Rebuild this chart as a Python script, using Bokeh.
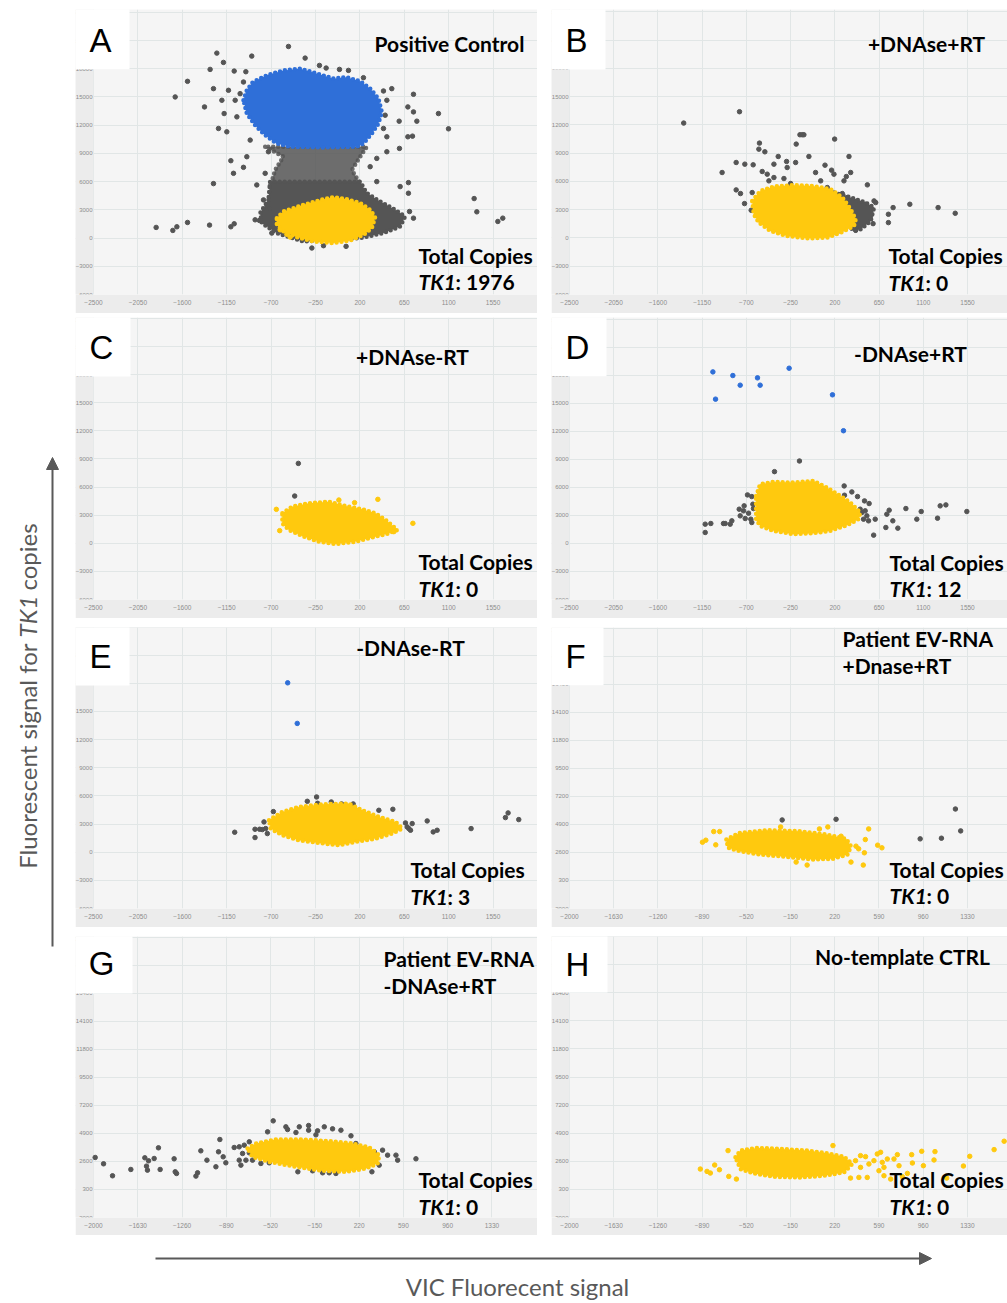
import math
from bokeh.plotting import figure
from bokeh.models import Range1d, FixedTicker, Arrow, NormalHead, Spacer
from bokeh.layouts import row, column
from bokeh.embed import file_html
from bokeh.resources import INLINE
from bokeh.core.properties import value

YELLOW = "#FFC90E"
BLUE = "#2F6FD8"
GREY = "#555555"

# ---------------- tick values ----------------
x_ticks_450 = [-2500, -2050, -1600, -1150, -700, -250, 200, 650, 1100, 1550]
y_ticks_3000 = [-6000, -3000, 0, 3000, 6000, 9000, 12000, 15000, 18000, 21000, 24000]
x_ticks_370 = [-2000, -1630, -1260, -890, -520, -150, 220, 590, 960, 1330]
y_ticks_2300 = [-2000, 300, 2600, 4900, 7200, 9500, 11800, 14100, 16400, 18700, 21000]

# ---------------- Panel A : Positive Control ----------------
a_yel_cloud_x = [-642, -574, -372, -169, -68, 67, 202, 304, 354, 321, 236, 101, -68, -270, -439, -574, -642]
a_yel_cloud_y = [2118, 2824, 3530, 4130, 4342, 4130, 3707, 3000, 2224, 1059, 353, -247, -530, -353, 106, 706, 1412]
a_yel_x = [-608, -507, -540]
a_yel_y = [882, 106, 400]
a_grey_cloud_x = [-727, -811, -794, -642, -372, 202, 439, 608, 658, 557, 405, 270, 202, -710]
a_grey_cloud_y = [4060, 2648, 1589, 530, -353, 0, 530, 1236, 2295, 3001, 3883, 4766, 6000, 6000]
a_grey_upper_x = [-760, -575, -659, -710, -715, 205, 202, 118, 202, 270]
a_grey_upper_y = [9708, 8649, 7237, 5472, 5800, 5800, 5825, 7237, 8649, 9708]
a_blue_cloud_x = [-980, -946, -885, -743, -575, -406, -237, -68, 67, 202, 304, 388, 422, 388, 321, 236, 169, -169, -507, -642, -760, -862, -946]
a_blue_cloud_y = [14650, 15709, 16591, 17297, 17827, 18003, 17500, 16950, 17100, 16662, 15885, 14826, 13414, 12179, 11120, 10060, 9708, 9637, 9708, 10060, 10943, 12002, 13238]
a_grey_x = [-524, -355, -1250, -1183, -896, -1318, -1074, -956, -1547, -1672, -1375, -1284, -1199, -1176,
            -1233, -1149, -1064, -1014, -980, -1047, -1132, -912, -210, -142, -7, 84, 236, 439, 523, 473,
            456, 439, 473, 598, 686, 743, 777, 743, 686, 733, 601, 473, 371, 304, 371, 996, 1098, 1358,
            1385, 1598, 1648, -1865, -1696, -1655, -1547, -1324, -1108, -1074, -1108, -1081, -980, -1284,
            -862, -818, -693, -287, -169, 60, 692, 608, 703, 743, 692, -760, -777, -727, -946, -845, -710]
a_grey_y = [20368, 19133, 19662, 18674, 19344, 17932, 17756, 17685, 16662, 15003, 13944, 15885, 14650, 13238,
            11649, 11296, 14650, 15356, 16591, 12885, 15709, 10414, 18356, 18074, 17932, 17827, 17050, 15638,
            15885, 14650, 13061, 11649, 10767, 12426, 13944, 15285, 12426, 13414, 10767, 10837, 9531, 9178,
            8472, 7590, 6001, 13238, 11614, 4201, 2789, 1765, 2118, 1130, 812, 1200, 1659, 1377, 1200, 1518,
            8225, 6884, 7519, 5789, 1942, 1871, 530, -1059, -812, -883, 4766, 5472, 2824, 2118, 5895, 6884,
            4060, 9178, 8649, 5648, 3177]

# ---------------- Panel B : +DNAse+RT ----------------
b_yel_cloud_x = [-641, -556, -420, -217, -13, 157, 276, 361, 412, 395, 259, 123, -81, -285, -454, -573, -624]
b_yel_cloud_y = [3937, 5001, 5462, 5604, 5498, 5179, 4292, 3050, 1986, 1277, 568, 35, -35, 213, 745, 1632, 2518]
b_grey_cloud_x = [191, 361, 514, 599, 565, 463, 395, 259]
b_grey_cloud_y = [4824, 4292, 3760, 3228, 1809, 922, 745, 2164]
b_grey_x = [-1338, -770, -947, -804, -716, -631, -567, -573, -512, -804, -760, -719, -651, -641, -539, -488,
            -420, -376, -291, -285, -199, -155, -132, -115, -193, -318, -250, -471, -420, -64, 4, 100, 56, 167,
            198, 191, 123, 344, 361, 317, 293, 276, 327, 395, 429, 463, 412, 480, 497, 412, 531, 514, 599, 565,
            589, 616, 745, 745, 793, 963, 1251, 1425, 259]
b_grey_y = [12202, 13408, 6952, 8016, 7839, 7768, 10073, 9435, 9151, 5108, 4718, 3653, 2944, 4824, 7059, 6775,
            7839, 8655, 8123, 7484, 8016, 10960, 10960, 10960, 9967, 6314, 5782, 6065, 6420, 8655, 6952, 7733,
            6065, 7200, 10499, 6775, 5356, 8655, 6952, 6527, 6065, 4718, 4292, 3937, 3582, 3050, 2518, 2164,
            2944, 816, 5640, 3582, 3937, 2341, 1525, 3760, 2518, 1632, 3228, 3582, 3228, 2625, 745]

# ---------------- Panel C : +DNAse-RT ----------------
c_yel_cloud_x = [-586, -485, -316, -114, 55, 224, 359, 460, 578, 494, 359, 156, -46, -215, -384, -519, -586]
c_yel_cloud_y = [3198, 3908, 4264, 4441, 3979, 3624, 3198, 2487, 1421, 1066, 711, 178, -71, 178, 782, 1421, 2132]
c_yel_x = [-647, -613, 737, 382, -13, 146, 544]
c_yel_y = [3624, 1350, 2132, 4690, 4619, 4335, 1244]
c_grey_x = [-424, -461]
c_grey_y = [8527, 5045]

# ---------------- Panel D : -DNAse+RT ----------------
d_yel_cloud_x = [-601, -560, -424, -221, -17, 119, 254, 356, 458, 441, 322, 153, -17, -221, -424, -560, -601]
d_yel_cloud_y = [5089, 6335, 6584, 6513, 6691, 5979, 5089, 4378, 3310, 2598, 1957, 1352, 1103, 997, 1352, 1886, 2598]
d_grey_x = [-414, -160, -689, -645, -773, -729, -763, -712, -678, -628, -634, -655, -645, -723, -848, -865,
            -933, -916, -1062, -1119, -1119, 295, 298, 373, 431, 502, 549, 458, 475, 509, 526, 492, 543, 611,
            595, 719, 729, 753, 790, 841, 923, 1034, 1079, 1245, 1272, 1330, 1543]
d_grey_y = [7687, 8826, 5196, 5018, 3666, 3488, 2954, 2669, 3239, 3737, 4200, 2598, 2242, 4022, 2420, 2064,
            2135, 2135, 2135, 2064, 1174, 6157, 5160, 5516, 5018, 4556, 4271, 3666, 3310, 3488, 2954, 2598,
            2420, 2598, 890, 1708, 3132, 3559, 2420, 1637, 3737, 2598, 3417, 2705, 4022, 4128, 3417]
d_blue_x = [-1041, -838, -763, -587, -560, -265, -1014, 176, 288]
d_blue_y = [18364, 17973, 16941, 17724, 16941, 18756, 15446, 15909, 12065]

# ---------------- Panel E : -DNAse-RT ----------------
e_yel_cloud_x = [-721, -586, -418, -181, 89, 224, 392, 561, 629, 527, 359, 156, -13, -215, -418, -586, -704]
e_yel_cloud_y = [3405, 4292, 4824, 5108, 5179, 4469, 3760, 3228, 2518, 1986, 1454, 1100, 745, 993, 1277, 1809, 2518]
e_grey_x = [-1069, -863, -863, -816, -772, -755, -738, -789, -677, -333, -239, -229, -90, 14, 132, 392, 534,
            662, 696, 730, 679, 713, 882, 943, 983, 1327, 1675, 1702, 1810]
e_grey_y = [2128, 2447, 1561, 2447, 3228, 2518, 1986, 2412, 4327, 5427, 5888, 5214, 5356, 5143, 5143, 4469,
            4576, 3121, 2518, 3050, 2696, 2341, 3334, 2164, 2341, 2518, 3689, 4186, 3476]
e_blue_x = [-532, -435]
e_blue_y = [18054, 13727]

# ---------------- Panel F : Patient EV-RNA +Dnase+RT ----------------
f_yel_cloud_x = [-687, -576, -353, -75, 148, 315, 356, 328, 203, 36, -186, -409, -576, -673]
f_yel_cloud_y = [3662, 4207, 4425, 4343, 4071, 3717, 3118, 2437, 2082, 2028, 2246, 2437, 2709, 2981]
f_yel_x = [-887, -859, -793, -776, -743, -233, 92, 162, 273, 398, 420, 468, 476, 504, 459, 579, 615, -11, -103, 356]
f_yel_y = [3444, 3608, 4316, 3227, 4316, 4697, 4534, 4697, 3935, 3118, 2900, 2573, 3662, 4534, 1565, 3199, 2981, 1565, 1810, 1810]
f_grey_x = [-220, 231, 1230, 935, 1113, 1274]
f_grey_y = [5270, 5324, 6168, 3717, 3771, 4371]

# ---------------- Panel G : Patient EV-RNA -DNAse+RT ----------------
g_yel_cloud_x = [-712, -643, -476, -253, -30, 165, 305, 388, 375, 277, 110, -85, -308, -531, -671]
g_yel_cloud_y = [3666, 4076, 4404, 4404, 4267, 4076, 3748, 3119, 2436, 2026, 1753, 1835, 2163, 2573, 2983]
g_grey_x = [-498, -545, -392, -378, -308, -280, -202, -202, -127, -71, -141, -2, 68, 152, 193, 263, 347, 416,
            458, 528, 542, 388, 327, 695, 26, -30, -85, -169, -292, -531, -601, -671, -726, -768, -782, -754,
            -698, -740, -782, -824, -698, -894, -916, -955, -977, -944, -1052, -1103, -1130, -1144, -1317,
            -1306, -1326, -1443, -1457, -1493, -1540, -1549, -1557, -1571, -1688, -1841, -1916, -1986]
g_grey_y = [5934, 5032, 5442, 5224, 4978, 5442, 5552, 5169, 5114, 5442, 4786, 5278, 5169, 4704, 4076, 3666,
            3393, 3529, 3119, 3119, 2709, 2299, 1753, 2819, 1616, 1671, 1671, 1835, 1753, 2491, 2436, 2709,
            2709, 2299, 2709, 3256, 3311, 3939, 3802, 3748, 4213, 2491, 2983, 3393, 2163, 4404, 2709, 3475,
            1671, 1397, 1753, 1616, 2819, 1944, 3721, 2846, 2655, 1889, 2217, 2901, 1944, 1425, 2409, 2928]

# ---------------- Panel H : No-template CTRL ----------------
h_yel_cloud_x = [-611, -569, -430, -234, -11, 157, 297, 367, 297, 129, -67, -290, -458, -569]
h_yel_cloud_y = [2929, 3478, 3697, 3615, 3478, 3258, 2984, 2381, 1695, 1420, 1283, 1338, 1613, 1969]
h_yel_x = [-905, -849, -821, -785, -745, -673, -667, -603, 205, 394, 436, 478, 436, 506, 548, 576, 604, 618,
           632, 660, 590, 492, 422, 352, 716, 744, 758, 786, 828, 864, 870, 948, 962, 1059, 1051, 1157, 1297,
           1350, 1554, 1638, 632, 688]
h_yel_y = [1969, 1777, 1640, 2298, 1914, 3478, 1366, 1146, 3889, 2655, 3066, 2984, 2106, 2381, 2655, 3203,
           3341, 2518, 2106, 2792, 1832, 1283, 1283, 1228, 2792, 3149, 2243, 1338, 1613, 3149, 2463, 3423, 2243,
           3395, 2710, 1228, 2216, 3011, 3560, 4246, 1420, 1146]

# ---------------- panel texts ----------------
titles = {
    "A": ["Positive Control"], "B": ["+DNAse+RT"], "C": ["+DNAse-RT"], "D": ["-DNAse+RT"],
    "E": ["-DNAse-RT"], "F": ["Patient EV-RNA", "+Dnase+RT"], "G": ["Patient EV-RNA", "-DNAse+RT"],
    "H": ["No-template CTRL"],
}
copies = {"A": "1976", "B": "0", "C": "0", "D": "12", "E": "3", "F": "0", "G": "0", "H": "0"}

FS = 21            # panel text size (px)
AXIS_BAND = 18     # pixels of the tick-label band on the left
# the SVG text anchor sits at mid-height: shift so that the wanted baseline is met
K_LATO = 0.41
K_LIB = 0.355


class Panel:
    def __init__(self, width, height, bb, x_first, x_end, px_per_unit, y0, y1, xticks, yticks):
        self.w = width
        self.fh = height - bb
        xs = x_first - AXIS_BAND / px_per_unit
        self.xr = (xs, x_end)
        self.yr = (y0, y1)
        p = figure(width=width, height=height, x_range=Range1d(xs, x_end), y_range=Range1d(y0, y1),
                   output_backend="svg", toolbar_location=None,
                   min_border_left=0, min_border_bottom=bb, min_border_top=0, min_border_right=0,
                   background_fill_color="#f5f5f5", border_fill_color="#ececec", outline_line_color=None)
        p.xaxis.ticker = FixedTicker(ticks=xticks)
        p.yaxis.ticker = FixedTicker(ticks=yticks)
        p.yaxis.fixed_location = x_first
        for ax in (p.xaxis[0], p.yaxis[0]):
            ax.axis_line_color = None
            ax.major_tick_line_color = None
            ax.minor_tick_line_color = None
            ax.major_tick_out = 0
            ax.major_tick_in = 0
            ax.minor_tick_out = 0
            ax.major_label_text_color = "#8c8c8c"
            ax.major_label_text_font = "Liberation Sans"
        p.xaxis.major_label_text_font_size = "6.5px"
        p.yaxis.major_label_text_font_size = "6px"
        p.xaxis.major_label_standoff = 5
        p.yaxis.major_label_standoff = 1
        p.xgrid.grid_line_color = "#e1e6e6"
        p.ygrid.grid_line_color = "#e1e6e6"
        p.quad(left=[xs], right=[x_first], bottom=[y0], top=[y1], fill_color="#ececec", line_color=None)
        self.p = p

    def X(self, px):
        return self.xr[0] + px / self.w * (self.xr[1] - self.xr[0])

    def Y(self, py):
        return self.yr[1] - py / self.fh * (self.yr[1] - self.yr[0])

    def cloud(self, xs, ys, color, alpha=1.0):
        self.p.patch(xs, ys, fill_color=color, fill_alpha=alpha, line_color=color, line_alpha=alpha,
                     line_width=4.5, line_dash="0 5", line_cap="round", line_join="round")

    def dots(self, xs, ys, color):
        self.p.scatter(xs, ys, size=4.5, fill_color=color, line_color=color)

    def text(self, px, base, t, align="left", style="bold", size=FS, font="Lato", k=K_LATO, level="glyph"):
        self.p.text(x=[self.X(px)], y=[self.Y(base - k * size)], text=[t], text_font=value(font),
                    text_font_style=style, text_font_size=f"{size}px", text_color="black",
                    text_align=align, text_baseline="alphabetic", level=level)

    def decorate(self, letter, title_pos, title_align, tc_pos, box, letter_pos):
        p = self.p
        p.quad(left=[self.X(0)], right=[self.X(box[0])], top=[self.Y(0)], bottom=[self.Y(box[1])],
               fill_color="white", line_color=None, level="overlay")
        self.text(letter_pos[0], letter_pos[1], letter, align="center", style="normal", size=33,
                  font="Liberation Sans", k=K_LIB, level="overlay")
        for i, t in enumerate(titles[letter]):
            self.text(title_pos[0], title_pos[1] + 27 * i, t, align=title_align)
        self.text(tc_pos[0], tc_pos[1], "Total Copies")
        self.text(tc_pos[0], tc_pos[1] + 27, "TK1", style="bold italic")
        self.text(tc_pos[0] + 37, tc_pos[1] + 27, ": " + copies[letter])


U450_L = 44.4 / 450
U450_R = 44.22 / 450
U370_G = 44.27 / 370
U370_R = 44.2 / 370

# ---- A
A = Panel(462, 304, 18, -2500, 2000, U450_L, -6000, 24300, x_ticks_450, y_ticks_3000)
A.cloud(a_grey_upper_x, a_grey_upper_y, GREY, 0.85)
A.cloud(a_grey_cloud_x, a_grey_cloud_y, GREY)
A.dots(a_grey_x, a_grey_y, GREY)
A.cloud(a_blue_cloud_x, a_blue_cloud_y, BLUE)
A.cloud(a_yel_cloud_x, a_yel_cloud_y, YELLOW)
A.dots(a_yel_x, a_yel_y, YELLOW)
A.decorate("A", (374, 43), "center", (343, 255), (54, 60), (25, 43))

# ---- B
B = Panel(456, 304, 19, -2500, 1957, U450_R, -6000, 24260, x_ticks_450, y_ticks_3000)
B.dots(b_grey_x, b_grey_y, GREY)
B.cloud(b_grey_cloud_x, b_grey_cloud_y, GREY)
B.cloud(b_yel_cloud_x, b_yel_cloud_y, YELLOW)
B.decorate("B", (375, 43), "center", (337, 255), (54, 60), (25, 43))

# ---- C
C = Panel(462, 301, 19, -2500, 2000, U450_L, -6000, 24100, x_ticks_450, y_ticks_3000)
C.dots(c_grey_x, c_grey_y, GREY)
C.cloud(c_yel_cloud_x, c_yel_cloud_y, YELLOW)
C.dots(c_yel_x, c_yel_y, YELLOW)
C.decorate("C", (337, 48), "center", (343, 253), (55, 59), (26, 42))

# ---- D
D = Panel(456, 301, 18, -2500, 1957, U450_R, -6000, 24185, x_ticks_450, y_ticks_3000)
D.dots(d_grey_x, d_grey_y, GREY)
D.dots(d_blue_x, d_blue_y, BLUE)
D.cloud(d_yel_cloud_x, d_yel_cloud_y, YELLOW)
D.decorate("D", (359, 45), "center", (338, 254), (55, 59), (26, 42))

# ---- E
E = Panel(462, 300, 19, -2500, 2000, U450_L, -6000, 23950, x_ticks_450, y_ticks_3000)
E.dots(e_grey_x, e_grey_y, GREY)
E.dots(e_blue_x, e_blue_y, BLUE)
E.cloud(e_yel_cloud_x, e_yel_cloud_y, YELLOW)
E.decorate("E", (335, 29), "center", (335, 251), (54, 58), (25, 41))

# ---- F
F = Panel(456, 300, 18, -2000, 1666, U370_R, -2000, 21070, x_ticks_370, y_ticks_2300)
F.dots(f_grey_x, f_grey_y, GREY)
F.cloud(f_yel_cloud_x, f_yel_cloud_y, YELLOW)
F.dots(f_yel_x, f_yel_y, YELLOW)
F.decorate("F", (291, 20), "left", (338, 251), (52, 58), (24, 41))

# ---- G
G = Panel(462, 299, 18, -2000, 1711, U370_G, -2000, 21070, x_ticks_370, y_ticks_2300)
G.dots(g_grey_x, g_grey_y, GREY)
G.cloud(g_yel_cloud_x, g_yel_cloud_y, YELLOW)
G.decorate("G", (308, 31), "left", (343, 252), (57, 57), (26, 39))

# ---- H
H = Panel(456, 299, 18, -2000, 1666, U370_R, -2000, 21013, x_ticks_370, y_ticks_2300)
H.cloud(h_yel_cloud_x, h_yel_cloud_y, YELLOW)
H.dots(h_yel_x, h_yel_y, YELLOW)
H.decorate("H", (351, 29), "center", (338, 252), (56, 56), (26, 40))

# ---------------- outer axis titles ----------------
AX_COLOR = "#595959"
AX_FS = 24
left = figure(width=75, height=1235, x_range=Range1d(0, 75), y_range=Range1d(1235, 0),
              output_backend="svg", toolbar_location=None, x_axis_type=None, y_axis_type=None,
              min_border=0, outline_line_color=None, background_fill_color="white",
              border_fill_color="white")
left.grid.visible = False
left.add_layout(Arrow(end=NormalHead(size=12, fill_color=AX_COLOR, line_color=AX_COLOR),
                      x_start=52, y_start=946, x_end=52, y_end=457,
                      line_color=AX_COLOR, line_width=2))
lx = 37 - K_LATO * AX_FS
left.text(x=[lx], y=[643], text=["Fluorescent signal for"], angle=math.pi / 2,
          text_align="right", text_baseline="alphabetic", text_font=value("Lato"),
          text_font_size=f"{AX_FS}px", text_color=AX_COLOR)
left.text(x=[lx], y=[616], text=["TK1"], angle=math.pi / 2,
          text_align="center", text_baseline="alphabetic", text_font=value("Lato"),
          text_font_style="italic", text_font_size=f"{AX_FS}px", text_color=AX_COLOR)
left.text(x=[lx], y=[590], text=["copies"], angle=math.pi / 2,
          text_align="left", text_baseline="alphabetic", text_font=value("Lato"),
          text_font_size=f"{AX_FS}px", text_color=AX_COLOR)

bottom = figure(width=1007, height=68, x_range=Range1d(0, 1007), y_range=Range1d(1303, 1235),
                output_backend="svg", toolbar_location=None, x_axis_type=None, y_axis_type=None,
                min_border=0, outline_line_color=None, background_fill_color="white",
                border_fill_color="white")
bottom.grid.visible = False
bottom.add_layout(Arrow(end=NormalHead(size=12, fill_color=AX_COLOR, line_color=AX_COLOR),
                        x_start=155, y_start=1258, x_end=931, y_end=1258,
                        line_color=AX_COLOR, line_width=2))
bottom.text(x=[517], y=[1296 - K_LATO * AX_FS], text=["VIC Fluorecent signal"], text_align="center",
            text_baseline="alphabetic", text_font=value("Lato"), text_font_size=f"{AX_FS}px",
            text_color=AX_COLOR)

grid = column(
    Spacer(width=932, height=9),
    row(A.p, Spacer(width=14, height=10), B.p),
    Spacer(width=932, height=4),
    row(C.p, Spacer(width=14, height=10), D.p),
    Spacer(width=932, height=9),
    row(E.p, Spacer(width=14, height=10), F.p),
    Spacer(width=932, height=9),
    row(G.p, Spacer(width=14, height=10), H.p),
)
layout = column(row(left, grid), bottom)

open("out.html", "w").write(file_html(layout, INLINE))
